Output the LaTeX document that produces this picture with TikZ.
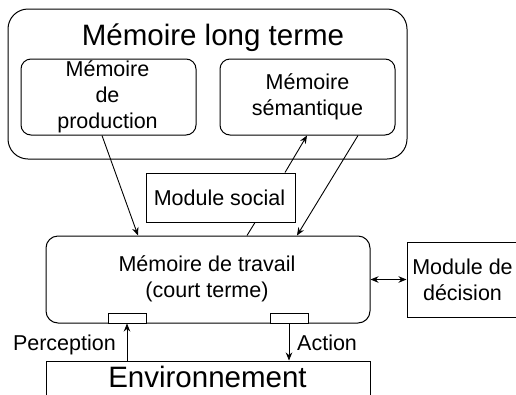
\documentclass[tikz,border=0pt]{standalone}
\usepackage{fontspec}
\setmainfont{Liberation Sans}
\usetikzlibrary{arrows.meta}
\tikzset{
  box/.style={draw, line width=1pt, inner sep=0pt},
  rbox/.style={box, rounded corners=#1},
  txtm/.style={inner sep=0pt, align=center, font=\fontsize{21.5}{26}\selectfont},
  txtl/.style={inner sep=0pt, font=\fontsize{29.5}{35}\selectfont},
  conn/.style={line width=0.9pt},
  arr/.style={conn, -{Stealth[length=8pt,width=6.5pt]}},
  darr/.style={conn, {Stealth[length=8pt,width=6.5pt]}-{Stealth[length=8pt,width=6.5pt]}},
}
\begin{document}
\begin{tikzpicture}[x=1pt,y=-1pt]
\useasboundingbox (0,0) rectangle (516,394);
\clip (0,0) rectangle (516,394);
% long-term memory
\node[rbox=20pt, minimum width=399pt, minimum height=150pt] (ltm) at (207.5,84) {};
\node[txtl, anchor=base] (ltmt) at (213,45) {Mémoire long terme};
\node[rbox=10pt, minimum width=175pt, minimum height=76pt] (prod) at (108.5,97) {};
\node[txtm] (prodt) at (107.5,97) {Mémoire\\de\\production};
\node[rbox=10pt, minimum width=175pt, minimum height=76pt] (sem) at (307.5,97) {};
\node[txtm] (semt) at (307.5,97) {Mémoire\\sémantique};
% social module
\node[box, minimum width=149pt, minimum height=49pt] (soc) at (220.5,197.5) {};
\node[txtm] (soct) at (219.5,197.5) {Module social};
% working memory
\node[rbox=12pt, minimum width=324pt, minimum height=87pt] (wm) at (208,279.5) {};
\node[txtm] (wmt) at (207,279) {Mémoire de travail\\(court terme)};
% decision module
\node[box, minimum width=111pt, minimum height=75pt] (md) at (462.5,279.5) {};
\node[txtm] (mdt) at (462.5,279.5) {Module de\\décision};
% ports
\node[box, fill=white, minimum width=38pt, minimum height=10pt] (pl) at (127,318) {};
\node[box, fill=white, minimum width=38pt, minimum height=10pt] (pr) at (289,318) {};
% environment
\node[box, minimum width=324pt, minimum height=60pt] (env) at (208,391) {};
\node[txtl, anchor=base] (envt) at (207.5,387) {Environnement};
% connectors
\draw[arr] ([xshift=-6.5pt]prod.south) -- ([xshift=-70pt]wm.north);
\draw[arr] ([xshift=50.5pt]sem.south) -- ([xshift=89pt]wm.north);
\draw[arr] ([xshift=64.5pt]soc.north) -- ([xshift=-0.5pt]sem.south);
\draw[conn] ([xshift=34.5pt]soc.south) -- ([xshift=39pt]wm.north);
\draw[darr] (wm.east) -- (md.west);
\draw[arr] (env.north -| pl.south) -- (pl.south);
\draw[arr] (pr.south) -- (pr.south |- env.north);
\node[txtm, anchor=base east] (perc) at (116,350) {Perception};
\node[txtm, anchor=base west] (act) at (297,350) {Action};
\end{tikzpicture}
\end{document}
